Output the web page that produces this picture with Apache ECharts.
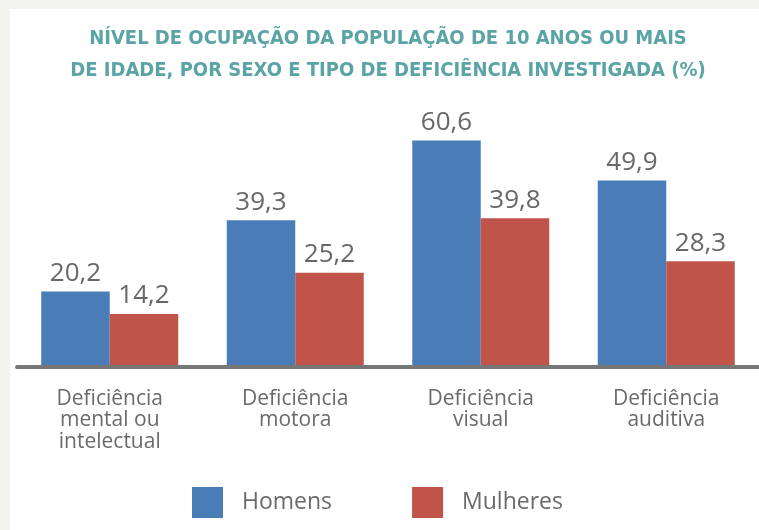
<!DOCTYPE html>
<html><head><meta charset="utf-8">
<script src="https://cdn.jsdelivr.net/npm/echarts@6/dist/echarts.min.js"></script>
<style>html,body{margin:0;padding:0;background:#f4f4ee}#c{width:759px;height:530px}</style>
</head><body><div id="c"></div>
<script>
const categories = ['Deficiência\nmental ou\nintelectual', 'Deficiência\nmotora', 'Deficiência\nvisual', 'Deficiência\nauditiva'];
const homens = [20.2, 39.3, 60.6, 49.9];
const mulheres = [14.2, 25.2, 39.8, 28.3];
const seriesNames = ['Homens', 'Mulheres'];
const titleText = 'NÍVEL DE OCUPAÇÃO DA POPULAÇÃO DE 10 ANOS OU MAIS\nDE IDADE, POR SEXO E TIPO DE DEFICIÊNCIA INVESTIGADA (%)';

const chart = echarts.init(document.getElementById('c'), null, {renderer: 'canvas'});
const fmt = p => p.value.toFixed(1).replace('.', ',');
const labelStyle = {show: true, position: 'top', distance: 5, fontFamily: 'Open Sans', fontSize: 26, color: '#686868', formatter: fmt};
chart.setOption({
  backgroundColor: '#f4f4ee',
  animation: false,
  graphic: [{type: 'rect', z: -10, shape: {x: 10, y: 9, width: 749, height: 521}, style: {fill: '#ffffff'}}],
  title: {
    text: titleText, left: 383, top: 18, textAlign: 'center',
    textStyle: {fontFamily: 'DejaVu Sans Condensed', fontWeight: 'bold', fontSize: 20, lineHeight: 32, color: '#5aa4a6'}
  },
  legend: {
    data: seriesNames, left: 187, top: 482, itemWidth: 31, itemHeight: 31, itemGap: 80, icon: 'rect',
    textStyle: {fontFamily: 'Open Sans', fontSize: 23, color: '#6a6a6a', padding: [0, 0, 0, 14]}
  },
  grid: {left: 17, width: 748, top: 104, bottom: 163, containLabel: false},
  xAxis: {
    type: 'category', data: categories, z: 5,
    axisLine: {lineStyle: {color: '#777777', width: 4}},
    axisTick: {show: false},
    axisLabel: {fontFamily: 'Open Sans', fontSize: 21, lineHeight: 21.5, color: '#6a6a6a', margin: 21, interval: 0}
  },
  yAxis: {type: 'value', min: 0, max: 70.4, show: false, splitLine: {show: false}},
  series: [
    {name: seriesNames[0], type: 'bar', data: homens, barWidth: 68.5, barGap: '0%', itemStyle: {color: '#4a7cb8'}, label: labelStyle},
    {name: seriesNames[1], type: 'bar', data: mulheres, barWidth: 68.5, barGap: '0%', itemStyle: {color: '#c0544b'}, label: labelStyle}
  ]
});
</script></body></html>
